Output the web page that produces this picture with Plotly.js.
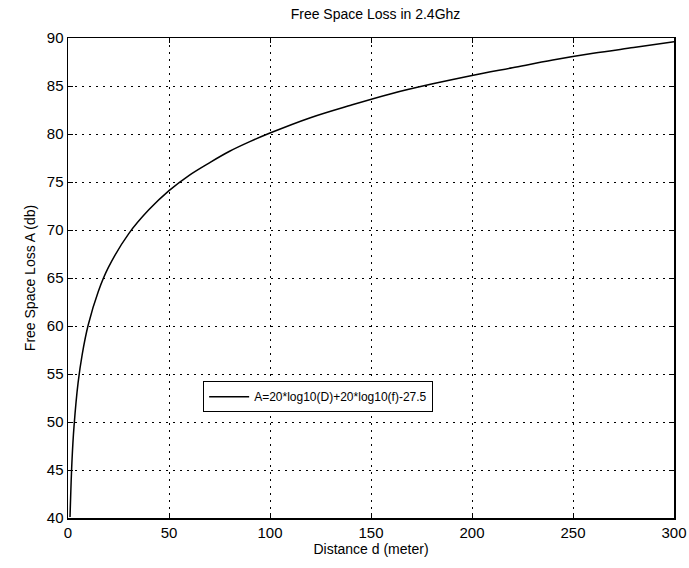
<!DOCTYPE html>
<html><head><meta charset="utf-8">
<script src="https://cdn.plot.ly/plotly-3.0.1.min.js"></script>
<style>body{margin:0;background:#fff}#c{width:689px;height:568px}</style>
</head><body><div id="c"></div>
<script>
const distance = [1,2,3,5,7,10,15,20,30,40,50,60,70,80,90,100,120,140,160,180,200,220,240,260,280,300];
const loss = [40.1,46.1,49.6,54.1,57.0,60.1,63.6,66.1,69.6,72.1,74.1,75.7,77.0,78.2,79.2,80.1,81.7,83.0,84.2,85.2,86.1,86.9,87.7,88.4,89.0,89.6];
const xTicks = [0,50,100,150,200,250,300];
const yTicks = [40,45,50,55,60,65,70,75,80,85,90];
const font = {family:'Liberation Sans, Arial, sans-serif', color:'#000'};
const ax = {
  showline:true, mirror:'ticks', linecolor:'#000', linewidth:1.5,
  ticks:'inside', ticklen:5, tickcolor:'#000',
  showgrid:true, gridcolor:'#000', gridwidth:1, griddash:'2px,5px',
  zeroline:false, tickfont:{...font, size:15}
};
Plotly.newPlot('c', [{
  x: distance, y: loss, type:'scatter', mode:'lines', line:{color:'#000', width:1.5, shape:'spline'},
  name:'A=20*log10(D)+20*log10(f)-27.5'
}], {
  width:689, height:568,
  margin:{l:68, r:15, t:38, b:50},
  paper_bgcolor:'#fff', plot_bgcolor:'#fff',
  title:{text:'Free Space Loss in 2.4Ghz', font:{...font, size:14}, x:0.545, xanchor:'center', y:0.975, yanchor:'middle'},
  xaxis:{...ax, range:[0,300], tickvals:xTicks, title:{text:'Distance d (meter)', font:{...font, size:14}, standoff:4}},
  yaxis:{...ax, range:[40,90], tickvals:yTicks, title:{text:'Free Space Loss A (db)', font:{...font, size:14}, standoff:8}},
  showlegend:true,
  legend:{x:0.223, y:0.285, xanchor:'left', yanchor:'top', bgcolor:'#fff', bordercolor:'#000', borderwidth:1, font:{...font, size:12}, itemwidth:40}
}, {staticPlot:true});
</script></body></html>
